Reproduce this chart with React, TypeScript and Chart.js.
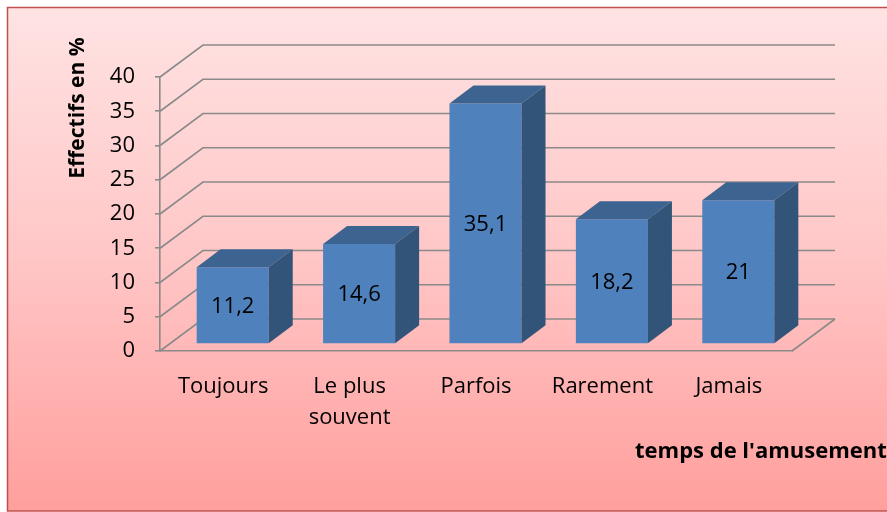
import React, { useEffect, useRef } from "react";
import { Chart, registerables } from "chart.js";

Chart.register(...registerables);

const categories: (string | string[])[] = ["Toujours", ["Le plus", "souvent"], "Parfois", "Rarement", "Jamais"];
const values: number[] = [11.2, 14.6, 35.1, 18.2, 21];
const valueLabels: string[] = ["11,2", "14,6", "35,1", "18,2", "21"];
const yTitle = "Effectifs en %";
const xTitle = "temps de l'amusement";

const FONT = "'Open Sans', 'Noto Sans', sans-serif";
const GRID = "#8a8a8a";
const FLOOR = { dx: 43, dy: -32 };
const BAR_DEPTH = { dx: 24, dy: -18 };
const BAR_OFF = { dx: (FLOOR.dx - BAR_DEPTH.dx) / 2, dy: (FLOOR.dy - BAR_DEPTH.dy) / 2 };

const threeD = {
  id: "threeD",
  beforeDraw(chart: any) {
    const { ctx, width, height } = chart;
    ctx.save();
    ctx.fillStyle = "#ffffff";
    ctx.fillRect(0, 0, width, height);
    const g = ctx.createLinearGradient(0, 7, 0, 511);
    g.addColorStop(0, "#ffe3e3");
    g.addColorStop(0.5, "#ffc6c6");
    g.addColorStop(1, "#ff9f9d");
    ctx.fillStyle = g;
    ctx.fillRect(7.5, 7.5, width + 10, 503.5);
    ctx.strokeStyle = "#c0504d";
    ctx.lineWidth = 1.5;
    ctx.strokeRect(7.5, 7.5, width + 10, 503.5);
    ctx.restore();
  },
  beforeDatasetsDraw(chart: any) {
    const { ctx, chartArea } = chart;
    const y = chart.scales.y;
    ctx.save();
    ctx.strokeStyle = GRID;
    ctx.lineWidth = 1.6;
    y.ticks.forEach((t: any) => {
      const py = y.getPixelForValue(t.value);
      ctx.beginPath();
      ctx.moveTo(chartArea.left, py);
      ctx.lineTo(chartArea.left + FLOOR.dx, py + FLOOR.dy);
      ctx.lineTo(chartArea.right + FLOOR.dx, py + FLOOR.dy);
      ctx.stroke();
    });
    const p0 = y.getPixelForValue(0);
    ctx.beginPath();
    ctx.moveTo(chartArea.right, p0);
    ctx.lineTo(chartArea.right + FLOOR.dx, p0 + FLOOR.dy);
    ctx.stroke();
    ctx.restore();
    ctx.save();
    ctx.translate(BAR_OFF.dx, BAR_OFF.dy);
  },
  afterDatasetsDraw(chart: any) {
    const { ctx } = chart;
    ctx.restore();
    const meta = chart.getDatasetMeta(0);
    ctx.save();
    meta.data.forEach((bar: any, i: number) => {
      const left = bar.x - bar.width / 2 + BAR_OFF.dx;
      const right = bar.x + bar.width / 2 + BAR_OFF.dx;
      const top = bar.y + BAR_OFF.dy;
      const base = bar.base + BAR_OFF.dy;
      ctx.fillStyle = "#3d6490";
      ctx.beginPath();
      ctx.moveTo(left, top);
      ctx.lineTo(left + BAR_DEPTH.dx, top + BAR_DEPTH.dy);
      ctx.lineTo(right + BAR_DEPTH.dx, top + BAR_DEPTH.dy);
      ctx.lineTo(right, top);
      ctx.closePath();
      ctx.fill();
      ctx.fillStyle = "#325479";
      ctx.beginPath();
      ctx.moveTo(right, top);
      ctx.lineTo(right + BAR_DEPTH.dx, top + BAR_DEPTH.dy);
      ctx.lineTo(right + BAR_DEPTH.dx, base + BAR_DEPTH.dy);
      ctx.lineTo(right, base);
      ctx.closePath();
      ctx.fill();
      ctx.fillStyle = "#000000";
      ctx.font = `22px ${FONT}`;
      ctx.textAlign = "center";
      ctx.textBaseline = "middle";
      ctx.fillText(valueLabels[i], (left + right) / 2, (top + base) / 2 + 1);
    });
    ctx.fillStyle = "#000000";
    ctx.font = `bold 22px ${FONT}`;
    ctx.textAlign = "left";
    ctx.textBaseline = "middle";
    ctx.fillText(xTitle, 635, 452);
    ctx.save();
    ctx.translate(78, 108);
    ctx.rotate(-Math.PI / 2);
    ctx.textAlign = "center";
    ctx.font = `bold 21px ${FONT}`;
    ctx.fillText(yTitle, 0, 0);
    ctx.restore();
    ctx.restore();
  },
};

export default function App() {
  const ref = useRef<HTMLCanvasElement | null>(null);
  useEffect(() => {
    if (!ref.current) return;
    const chart = new Chart(ref.current, {
      type: "bar",
      data: {
        labels: categories,
        datasets: [
          {
            data: values,
            backgroundColor: "#4f81bd",
            borderWidth: 0,
            categoryPercentage: 1,
            barPercentage: 0.57,
            clip: false as any,
          },
        ],
      },
      options: {
        responsive: false,
        animation: false,
        events: [],
        layout: { padding: { left: 0, right: 95, top: 77, bottom: 0 } },
        plugins: { legend: { display: false }, tooltip: { enabled: false }, title: { display: false } },
        scales: {
          x: {
            grid: { display: false },
            border: { display: true, color: GRID, width: 1.6 },
            ticks: {
              color: "#000000",
              font: { family: FONT, size: 22, lineHeight: 1.41 },
              padding: 12,
              maxRotation: 0,
              autoSkip: false,
            },
            afterFit: (s: any) => {
              s.height = 161;
            },
          },
          y: {
            min: 0,
            max: 40,
            grid: { display: true, drawOnChartArea: false, drawTicks: true, tickLength: 5, color: GRID, lineWidth: 1.6 },
            border: { display: true, color: GRID, width: 1.6 },
            ticks: {
              stepSize: 5,
              color: "#000000",
              font: { family: FONT, size: 22 },
              padding: 20,
            },
            afterFit: (s: any) => {
              s.width = 160;
            },
          },
        },
      },
      plugins: [threeD],
    });
    return () => chart.destroy();
  }, []);
  return (
    <div style={{ position: "absolute", left: 0, top: 0, width: 887, height: 512 }}>
      <canvas ref={ref} width={887} height={512} style={{ display: "block" }} />
    </div>
  );
}
